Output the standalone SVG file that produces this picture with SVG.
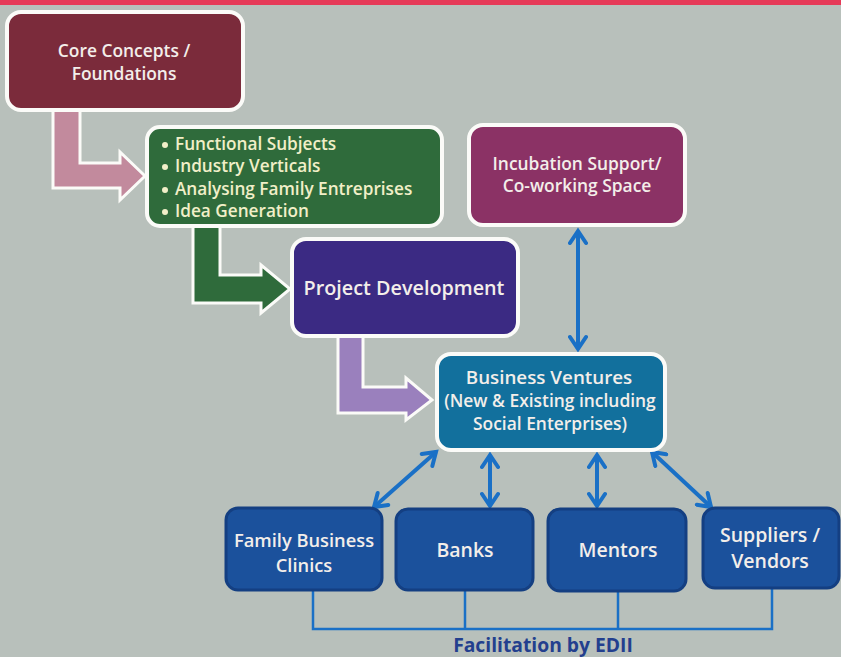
<svg xmlns="http://www.w3.org/2000/svg" width="841" height="657" viewBox="0 0 841 657">
<defs>
<style>
.bg{fill:#b8c0bb}
.t{font-family:"Open Sans","Liberation Sans",sans-serif;font-size:17.4px;font-weight:600;fill:#f3eeea;text-anchor:middle}
.tb{font-size:19.5px}
.tl{font-family:"Open Sans","Liberation Sans",sans-serif;font-size:17.2px;font-weight:600;fill:#f1efc8}
.wb{stroke:#fbfbf8;stroke-width:4}
.db{fill:#1b519c;stroke:#143f82;stroke-width:3}
.blk{stroke:#fbfbf8;stroke-width:3;stroke-linejoin:miter}
.ba{stroke:#1a70c6;stroke-width:4;fill:none;marker-start:url(#ah);marker-end:url(#ah)}
.fl{stroke:#1a70c6;stroke-width:2.5;fill:none}
</style>
<marker id="ah" markerUnits="userSpaceOnUse" viewBox="-16 -10 20 20" refX="0" refY="0" markerWidth="20" markerHeight="20" orient="auto-start-reverse">
<path d="M-12,-8 L0,0 L-12,8" fill="none" stroke="#1a70c6" stroke-width="4" stroke-linecap="round" stroke-linejoin="miter"/>
</marker>
</defs>
<rect class="bg" x="0" y="0" width="841" height="657"/>
<rect x="0" y="0" width="841" height="5" fill="#e63a58"/>

<g id="connectors">
<polygon class="blk" fill="#c28a9d" points="53,100 80,100 80,163 120,163 120,152 145,176 120,200 120,188 53,188"/>
<polygon class="blk" fill="#2f6b3b" points="193,220 220,220 220,275 261,275 261,265 290,289 261,313 261,303 193,303"/>
<polygon class="blk" fill="#9a80bd" points="338,330 363,330 363,387 406,387 406,378 432,400 406,420 406,413 338,413"/>
<line class="ba" x1="578" y1="231" x2="578" y2="349"/>
<line class="ba" x1="436" y1="452" x2="374" y2="507"/>
<line class="ba" x1="490" y1="455" x2="490" y2="506"/>
<line class="ba" x1="597" y1="455" x2="597" y2="506"/>
<line class="ba" x1="652" y1="452" x2="711" y2="507"/>
<polyline class="fl" points="313,590 313,629 772,629 772,588"/>
<line class="fl" x1="465" y1="590" x2="465" y2="629"/>
<line class="fl" x1="618" y1="592" x2="618" y2="629"/>
</g>

<g id="core">
<rect class="wb" x="7" y="12" width="236" height="98" rx="14" fill="#7b2b3b"/>
<text class="t" x="124" y="57">Core Concepts /</text>
<text class="t" x="124" y="80">Foundations</text>
</g>

<g id="functional">
<rect class="wb" x="147" y="127" width="295" height="99" rx="13" fill="#2f6b3b"/>
<g class="tl">
<circle cx="165" cy="145" r="3" fill="#f1efc8"/>
<circle cx="165" cy="167" r="3" fill="#f1efc8"/>
<circle cx="165" cy="190" r="3" fill="#f1efc8"/>
<circle cx="165" cy="212" r="3" fill="#f1efc8"/>
<text x="175" y="150">Functional Subjects</text>
<text x="175" y="172">Industry Verticals</text>
<text x="175" y="195">Analysing Family Entreprises</text>
<text x="175" y="217">Idea Generation</text>
</g>
</g>

<g id="incubation">
<rect class="wb" x="469" y="125" width="216" height="100" rx="14" fill="#8b3265"/>
<text class="t" x="577" y="170">Incubation Support/</text>
<text class="t" x="577" y="192">Co-working Space</text>
</g>

<g id="project">
<rect class="wb" x="292" y="239" width="226" height="97" rx="14" fill="#3b2a83"/>
<text class="t" x="404" y="295" style="font-size:19.8px">Project Development</text>
</g>

<g id="business">
<rect class="wb" x="437" y="354" width="228" height="96" rx="14" fill="#12709d"/>
<text class="t" x="549" y="384" style="font-size:18.8px">Business Ventures</text>
<text class="t" x="550" y="407">(New &amp; Existing including</text>
<text class="t" x="550" y="430">Social Enterprises)</text>
</g>

<g id="family">
<rect class="db" x="226" y="508" width="156" height="82" rx="12"/>
<text class="t" x="304" y="547" style="font-size:18.3px">Family Business</text>
<text class="t" x="304" y="572" style="font-size:18.3px">Clinics</text>
</g>

<g id="banks">
<rect class="db" x="396" y="509" width="137" height="81" rx="12"/>
<text class="t tb" x="465" y="557">Banks</text>
</g>

<g id="mentors">
<rect class="db" x="548" y="509" width="138" height="82" rx="12"/>
<text class="t tb" x="618" y="557">Mentors</text>
</g>

<g id="suppliers">
<rect class="db" x="703" y="508" width="136" height="80" rx="12"/>
<text class="t tb" x="770" y="542">Suppliers /</text>
<text class="t tb" x="770" y="568">Vendors</text>
</g>

<text x="543" y="652" style="font-family:'Open Sans','Liberation Sans',sans-serif;font-size:19.3px;font-weight:700;fill:#233f8e;text-anchor:middle">Facilitation by EDII</text>
</svg>
